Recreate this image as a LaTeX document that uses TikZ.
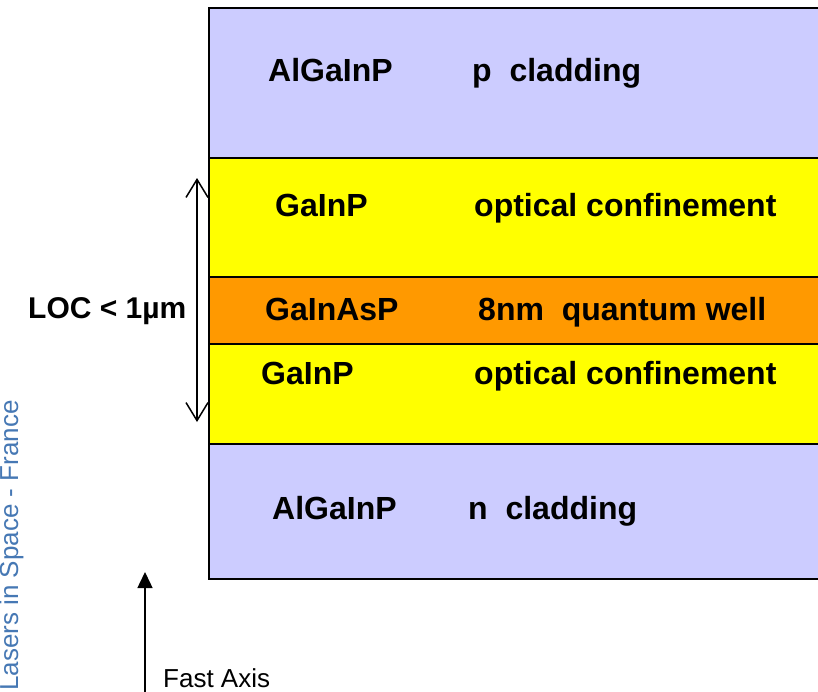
\documentclass[tikz,border=0pt]{standalone}
\usepackage{fontspec}
\setmainfont{Liberation Sans}
\usetikzlibrary{arrows.meta}
\definecolor{clad}{HTML}{CCCCFF}
\definecolor{conf}{HTML}{FFFF00}
\definecolor{well}{HTML}{FF9900}
\definecolor{wm}{RGB}{70,120,180}
\begin{document}
\begin{tikzpicture}[x=1pt,y=-1pt,
  layer/.style={draw=black,line width=2pt,anchor=north west,inner sep=0pt,minimum width=640pt},
  lbl/.style={anchor=base west,inner sep=0pt,font=\fontsize{32}{32}\selectfont\bfseries},
]
\useasboundingbox (0,0) rectangle (818,691);
\clip (0,0) rectangle (818,691);
\node[layer,fill=clad,minimum height=150pt] (pclad) at (208,7) {};
\node[layer,fill=conf,minimum height=119pt] (conft) at (208,157) {};
\node[layer,fill=well,minimum height=67pt] (qw) at (208,276) {};
\node[layer,fill=conf,minimum height=100pt] (confb) at (208,343) {};
\node[layer,fill=clad,minimum height=135pt] (nclad) at (208,443) {};

\node[lbl] (t1a) at (268,81) {AlGaInP};
\node[lbl] (t1b) at (472,81) {p\ \ cladding};
\node[lbl] (t2a) at (275,216) {GaInP};
\node[lbl] (t2b) at (474,216) {optical confinement};
\node[lbl] (t3a) at (265,320) {GaInAsP};
\node[lbl] (t3b) at (478,320) {8nm\ \ quantum well};
\node[lbl] (t4a) at (261,384) {GaInP};
\node[lbl] (t4b) at (474,384) {optical confinement};
\node[lbl] (t5a) at (272,519) {AlGaInP};
\node[lbl] (t5b) at (468,519) {n\ \ cladding};
\node[lbl,font=\fontsize{30}{30}\selectfont\bfseries] (loc) at (28,318) {LOC < 1µm};

\coordinate (la) at (197,178);
\coordinate (lb) at (197,422);
\draw[line width=1.5pt,{Straight Barb[length=18pt,width=22pt]}-{Straight Barb[length=18pt,width=22pt]}] (la) -- (lb);

\coordinate (fa0) at (145,700);
\coordinate (fa1) at (145,572);
\draw[line width=1.5pt,-{Triangle[length=16pt,width=15pt]}] (fa0) -- (fa1);
\node[anchor=base west,inner sep=0pt,font=\fontsize{26}{26}\selectfont] (fast) at (163,687) {Fast Axis};

\node[anchor=base west,inner sep=0pt,rotate=90,text=wm,font=\fontsize{26}{26}\selectfont] (wmk) at (18,691) {Lasers in Space - France};
\end{tikzpicture}
\end{document}
